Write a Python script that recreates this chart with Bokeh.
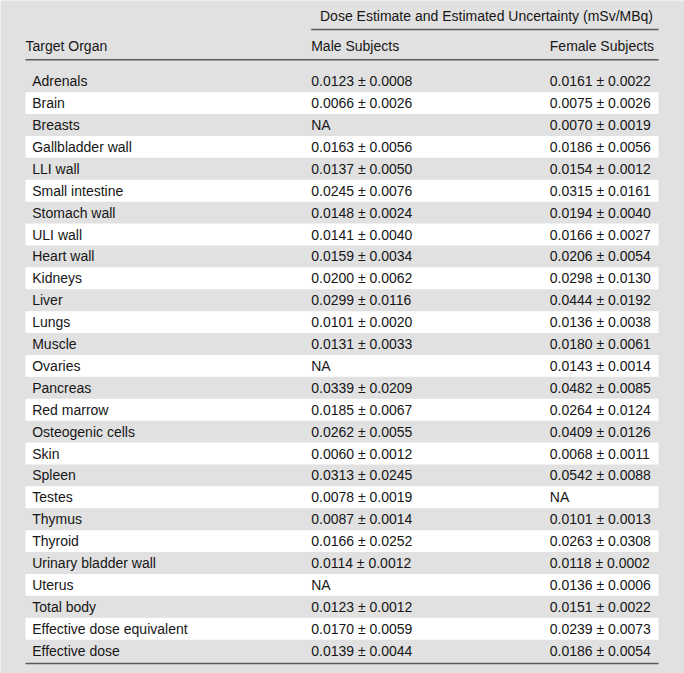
from bokeh.plotting import figure
from bokeh.models import ColumnDataSource, Range1d
from bokeh.core.properties import value
from bokeh.embed import file_html
from bokeh.resources import INLINE

# ---- data ----
organs = ["Adrenals", "Brain", "Breasts", "Gallbladder wall", "LLI wall",
          "Small intestine", "Stomach wall", "ULI wall", "Heart wall", "Kidneys",
          "Liver", "Lungs", "Muscle", "Ovaries", "Pancreas", "Red marrow",
          "Osteogenic cells", "Skin", "Spleen", "Testes", "Thymus", "Thyroid",
          "Urinary bladder wall", "Uterus", "Total body",
          "Effective dose equivalent", "Effective dose"]
male = ["0.0123 \u00b1 0.0008", "0.0066 \u00b1 0.0026", "NA", "0.0163 \u00b1 0.0056",
        "0.0137 \u00b1 0.0050", "0.0245 \u00b1 0.0076", "0.0148 \u00b1 0.0024",
        "0.0141 \u00b1 0.0040", "0.0159 \u00b1 0.0034", "0.0200 \u00b1 0.0062",
        "0.0299 \u00b1 0.0116", "0.0101 \u00b1 0.0020", "0.0131 \u00b1 0.0033", "NA",
        "0.0339 \u00b1 0.0209", "0.0185 \u00b1 0.0067", "0.0262 \u00b1 0.0055",
        "0.0060 \u00b1 0.0012", "0.0313 \u00b1 0.0245", "0.0078 \u00b1 0.0019",
        "0.0087 \u00b1 0.0014", "0.0166 \u00b1 0.0252", "0.0114 \u00b1 0.0012", "NA",
        "0.0123 \u00b1 0.0012", "0.0170 \u00b1 0.0059", "0.0139 \u00b1 0.0044"]
female = ["0.0161 \u00b1 0.0022", "0.0075 \u00b1 0.0026", "0.0070 \u00b1 0.0019",
          "0.0186 \u00b1 0.0056", "0.0154 \u00b1 0.0012", "0.0315 \u00b1 0.0161",
          "0.0194 \u00b1 0.0040", "0.0166 \u00b1 0.0027", "0.0206 \u00b1 0.0054",
          "0.0298 \u00b1 0.0130", "0.0444 \u00b1 0.0192", "0.0136 \u00b1 0.0038",
          "0.0180 \u00b1 0.0061", "0.0143 \u00b1 0.0014", "0.0482 \u00b1 0.0085",
          "0.0264 \u00b1 0.0124", "0.0409 \u00b1 0.0126", "0.0068 \u00b1 0.0011",
          "0.0542 \u00b1 0.0088", "NA", "0.0101 \u00b1 0.0013", "0.0263 \u00b1 0.0308",
          "0.0118 \u00b1 0.0002", "0.0136 \u00b1 0.0006", "0.0151 \u00b1 0.0022",
          "0.0239 \u00b1 0.0073", "0.0186 \u00b1 0.0054"]
header_span = "Dose Estimate and Estimated Uncertainty (mSv/MBq)"
header_cols = ["Target Organ", "Male Subjects", "Female Subjects"]

# ---- layout (page pixel coordinates) ----
BG = "#e1e1e1"
FONT = value("Liberation Sans")
TXT = "#161616"
LINE = "#5a5a5a"
TL, TR = 25, 658
ROW0, ROWH = 80.7, 21.9
X_ORG, X_MALE, X_FEM = 31.7, 310.7, 549.3
W, H = 684, 673

p = figure(width=W, height=H, output_backend="svg", toolbar_location=None,
           x_range=Range1d(0, W), y_range=Range1d(H, 0),
           min_border=0, background_fill_color=BG, border_fill_color=BG)
p.outline_line_color = None
p.axis.visible = False
p.grid.visible = False

n = len(organs)
ys = [ROW0 + ROWH * i for i in range(n)]

# white alternating bands
band_y = [ys[i] for i in range(n) if i % 2 == 1]
p.rect(x=[(TL + TR) / 2] * len(band_y), y=band_y, width=TR - TL, height=ROWH,
       fill_color="white", line_color=None)

# rules
p.segment(x0=[310.7, TL, TL], y0=[29, 59.3, 663], x1=[TR, TR, TR], y1=[29, 59.3, 663],
          line_color=LINE, line_width=1.6)

# headers
p.text(x=[486], y=[15.7], text=[header_span], text_align="center",
       text_baseline="middle", text_font=FONT, text_font_size="14px", text_color=TXT)
p.text(x=[TL, X_MALE, X_FEM], y=[45.7] * 3, text=header_cols, text_align="left",
       text_baseline="middle", text_font=FONT, text_font_size="14px", text_color=TXT)

src = ColumnDataSource(dict(y=ys, organ=organs, male=male, female=female))
p.text(x=X_ORG, y="y", text="organ", source=src, text_align="left",
       text_baseline="middle", text_font=FONT, text_font_size="14px", text_color=TXT)
p.text(x=X_MALE, y="y", text="male", source=src, text_align="left",
       text_baseline="middle", text_font=FONT, text_font_size="14px", text_color=TXT)
p.text(x=X_FEM, y="y", text="female", source=src, text_align="left",
       text_baseline="middle", text_font=FONT, text_font_size="14px", text_color=TXT)

open("out.html", "w").write(file_html(p, INLINE))
